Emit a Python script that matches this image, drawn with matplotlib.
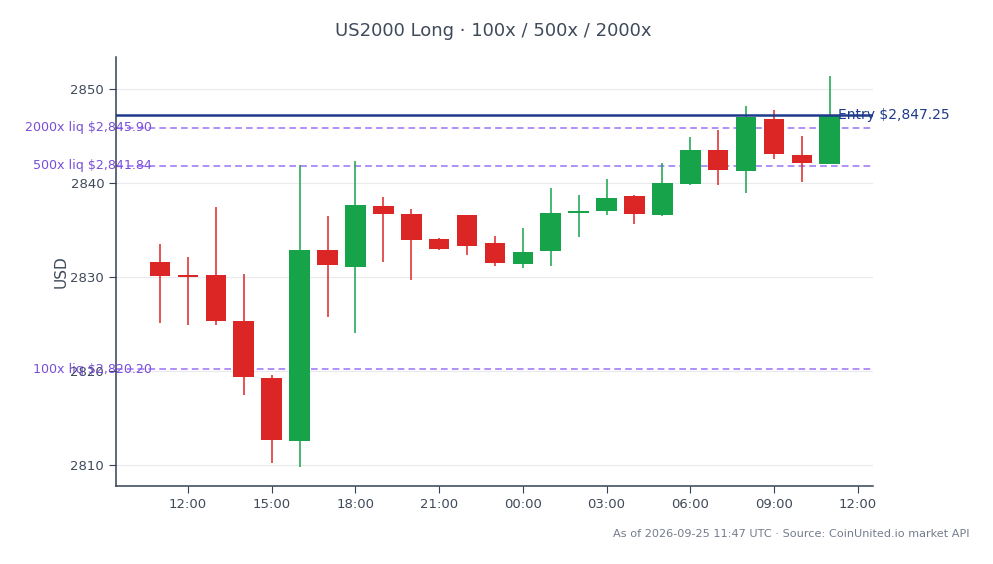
import numpy as np
import pandas as pd
import matplotlib
matplotlib.use("Agg")
import matplotlib.pyplot as plt
import matplotlib.dates as mdates

# hourly candles
times = pd.date_range("2026-09-24 11:00", periods=25, freq="h")
opens = [2831.65, 2830.2, 2830.2, 2825.4, 2819.3, 2812.6, 2832.9, 2831.1, 2837.6, 2836.7,
         2834.1, 2836.6, 2833.6, 2831.4, 2832.75, 2836.8, 2837.0, 2838.6, 2836.6, 2839.95,
         2843.55, 2841.25, 2846.85, 2842.95, 2842.05]
highs = [2833.5, 2832.1, 2837.5, 2830.3, 2819.6, 2841.95, 2836.5, 2842.4, 2838.5, 2837.3,
         2834.2, 2836.6, 2834.4, 2835.2, 2839.5, 2838.7, 2840.4, 2838.7, 2842.1, 2844.9,
         2845.6, 2848.15, 2847.8, 2845.0, 2851.35]
lows = [2825.1, 2824.95, 2824.95, 2817.5, 2810.25, 2809.8, 2825.8, 2824.1, 2831.65, 2829.7,
        2832.9, 2832.4, 2831.2, 2831.0, 2831.2, 2834.3, 2836.6, 2835.7, 2836.5, 2839.8,
        2839.8, 2838.9, 2842.6, 2840.1, 2842.0]
closes = [2830.1, 2830.0, 2825.3, 2819.4, 2812.7, 2832.9, 2831.3, 2837.7, 2836.7, 2834.0,
          2832.95, 2833.3, 2831.5, 2832.7, 2836.8, 2837.0, 2838.45, 2836.7, 2840.0, 2843.55,
          2841.35, 2847.05, 2843.05, 2842.1, 2847.24]

entry_price = 2847.25
liq_labels = ["100x", "500x", "2000x"]
liq_prices = [2820.20, 2841.84, 2845.90]

up_color = "#16a34a"
down_color = "#dc2626"
entry_color = "#1e3a8a"
liq_color = "#8b5cf6"
liq_text = "#6d3fd6"
ink = "#3f4a5a"

fig = plt.figure(figsize=(9.93, 5.64), dpi=100)
ax = fig.add_axes([0.1168, 0.138, 0.7624, 0.761])

x = mdates.date2num(times)
width = 0.74 / 24.0
for xi, o, h, l, c in zip(x, opens, highs, lows, closes):
    col = up_color if c >= o else down_color
    ax.vlines(xi, l, h, color=col, linewidth=1.1, zorder=3)
    body = max(abs(c - o), 0.15)
    ax.bar(xi, body, width=width, bottom=min(o, c), color=col, zorder=4, linewidth=0)

# entry and liquidation levels
ax.axhline(entry_price, color=entry_color, linewidth=1.8, zorder=5)
ax.text(0.954, entry_price, f"Entry ${entry_price:,.2f}", transform=ax.get_yaxis_transform(),
        ha="left", va="center", color=entry_color, fontsize=10, zorder=6, clip_on=False)
for lab, p in zip(liq_labels, liq_prices):
    ax.axhline(p, color=liq_color, linewidth=1.2, linestyle=(0, (4, 2.5)), alpha=0.8, zorder=2)
    ax.text(0.048, p, f"{lab} liq ${p:,.2f}", transform=ax.get_yaxis_transform(),
            ha="right", va="center", color=liq_text, fontsize=9.1, alpha=0.92, zorder=1,
            clip_on=False)

ax.set_xlim(x[0] - 1.58 / 24, x[-1] + 1.55 / 24)
ax.set_ylim(2807.8, 2853.4)
ax.set_yticks([2810, 2820, 2830, 2840, 2850])
ax.xaxis.set_major_locator(mdates.HourLocator(byhour=[0, 3, 6, 9, 12, 15, 18, 21]))
ax.xaxis.set_major_formatter(mdates.DateFormatter("%H:%M"))

ax.grid(axis="y", color="#e8eaed", linewidth=0.8)
ax.set_axisbelow(True)
for s in ("top", "right"):
    ax.spines[s].set_visible(False)
for s in ("left", "bottom"):
    ax.spines[s].set_color("#334155")
    ax.spines[s].set_linewidth(1.1)
ax.tick_params(colors="#334155", labelcolor=ink, labelsize=9.5, length=5)
ax.set_ylabel("USD", color=ink, fontsize=11, labelpad=1)

fig.text(0.497, 0.945, "US2000 Long · 100x / 500x / 2000x", ha="center", va="center",
         fontsize=13, color=ink)
fig.text(0.976, 0.053, "As of 2026-09-25 11:47 UTC · Source: CoinUnited.io market API",
         ha="right", va="center", fontsize=8.15, color="#737c8c")

fig.savefig("out.png", dpi=100)
